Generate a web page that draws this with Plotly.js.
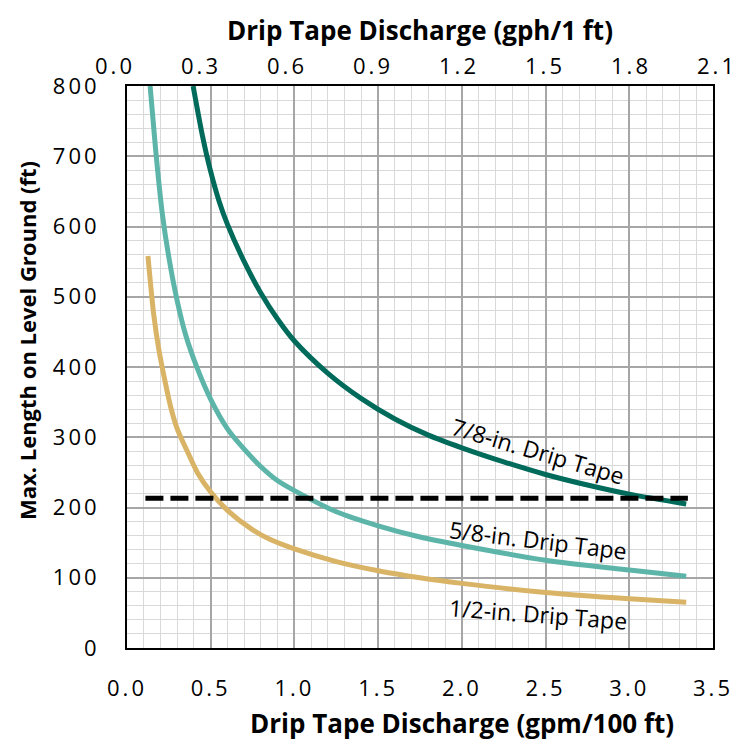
<!DOCTYPE html>
<html>
<head>
<meta charset="utf-8">
<script src="https://cdn.plot.ly/plotly-3.0.1.min.js"></script>
<style>
  html, body { margin: 0; padding: 0; background: #ffffff; }
  #chart { width: 750px; height: 745px; }
  /* roomier digits on the tick labels */
  .xtick text, .ytick text, .x2tick text { letter-spacing: 3px; }
</style>
</head>
<body>
<div id="chart"></div>
<script>
// Drip tape discharge (gpm/100 ft) and maximum run length (ft) for each tape size
const q78   = [0.395, 0.45, 0.50, 0.55, 0.60, 0.70, 0.80, 0.90, 1.00, 1.20, 1.40, 1.60, 1.80, 2.00, 2.25, 2.50, 2.75, 3.00, 3.34];
const len78 = [800, 730, 678, 636, 603, 550, 505, 468, 437, 391, 355, 326, 303, 285, 265, 247, 232, 219, 205];

const q58   = [0.138, 0.17, 0.21, 0.25, 0.30, 0.35, 0.42, 0.50, 0.60, 0.70, 0.80, 0.90, 1.00, 1.25, 1.50, 1.75, 2.00, 2.50, 3.00, 3.34];
const len58 = [800, 712, 620, 556, 494, 446, 398, 354, 312, 283, 258, 238, 224, 194, 174, 158, 146, 125, 111, 102];

const q12   = [0.125, 0.14, 0.16, 0.19, 0.22, 0.26, 0.30, 0.36, 0.42, 0.50, 0.60, 0.74, 0.85, 1.00, 1.25, 1.50, 1.75, 2.00, 2.50, 3.00, 3.34];
const len12 = [558, 520, 474, 425, 388, 344, 312, 280, 250, 222, 196, 170, 155, 141, 123, 110, 100, 92, 79, 70, 65];

// Horizontal reference length
const refQ   = [0.11, 3.35];
const refLen = [213, 213];

// Secondary scale: gph per 1 ft
const topTicks  = [0.0, 0.3, 0.6, 0.9, 1.2, 1.5, 1.8, 2.1];
const topLabels = ['0.0', '0.3', '0.6', '0.9', '1.2', '1.5', '1.8', '2.1'];

// Curve captions
const captionText = ['7/8-in. Drip Tape', '5/8-in. Drip Tape', '1/2-in. Drip Tape'];
const captionQ    = [2.455, 2.455, 2.455];
const captionLen  = [281, 154, 48];
const captionTilt = [16.5, 7, 4.4];

const colors = { d78: '#006b5b', d58: '#5db5a9', d12: '#d9b466' };
const FONT = 'Open Sans, Noto Sans, sans-serif';

const curveLine = (c) => ({ color: c, width: 5, shape: 'spline', smoothing: 0.8 });

const traces = [
  { x: q12, y: len12, type: 'scatter', mode: 'lines', name: '1/2-in.', line: curveLine(colors.d12) },
  { x: q58, y: len58, type: 'scatter', mode: 'lines', name: '5/8-in.', line: curveLine(colors.d58) },
  { x: q78, y: len78, type: 'scatter', mode: 'lines', name: '7/8-in.', line: curveLine(colors.d78) },
  { x: refQ, y: refLen, type: 'scatter', mode: 'lines', name: 'reference',
    line: { color: '#000000', width: 5, dash: '18px,7px' } },
  // carries the gph/1 ft scale along the top edge
  { x: [topTicks[0], topTicks[topTicks.length - 1]], y: [null, null], xaxis: 'x2', yaxis: 'y2',
    type: 'scatter', mode: 'lines', showlegend: false }
];

const annotations = captionText.map((t, i) => ({
  text: t, x: captionQ[i], y: captionLen[i], xref: 'x', yref: 'y',
  showarrow: false, textangle: captionTilt[i],
  xanchor: 'center', yanchor: 'middle',
  font: { family: FONT, size: 23, color: '#000000' }
}));

annotations.push(
  { text: '<b>Drip Tape Discharge (gph/1 ft)</b>', xref: 'paper', yref: 'paper',
    x: 0.5066, y: 1.0996, showarrow: false, xanchor: 'center', yanchor: 'middle',
    font: { family: FONT, size: 26, color: '#000000' } },
  { text: '<b>Drip Tape Discharge (gpm/100 ft)</b>', xref: 'paper', yref: 'paper',
    x: 0.5764, y: -0.1335, showarrow: false, xanchor: 'center', yanchor: 'middle',
    font: { family: FONT, size: 26, color: '#000000' } },
  { text: '<b>Max. Length on Level Ground (ft)</b>', xref: 'paper', yref: 'paper',
    x: -0.1462, y: 0.548, showarrow: false, textangle: -90, xanchor: 'center', yanchor: 'middle',
    font: { family: FONT, size: 22, color: '#000000' } }
);

const tickFont = { family: FONT, size: 22, color: '#000000' };

const layout = {
  width: 750, height: 745,
  margin: { l: 115, r: 33, t: 86, b: 97, pad: 0 },
  paper_bgcolor: '#ffffff',
  plot_bgcolor: 'rgba(0,0,0,0)',
  showlegend: false,
  hovermode: false,
  font: { family: FONT, size: 20, color: '#000000' },
  xaxis: {
    domain: [0.01993, 0.99336],
    range: [0, 3.5], dtick: 0.5, tick0: 0, tickformat: '.1f',
    showgrid: true, gridcolor: '#a6a6a6', gridwidth: 2,
    minor: { dtick: 0.1, showgrid: true, gridcolor: '#d9d9d9', gridwidth: 1 },
    showline: true, linecolor: '#000000', linewidth: 2, mirror: true,
    ticks: '', ticklabelstandoff: 20, zeroline: false,
    tickfont: tickFont
  },
  yaxis: {
    domain: [0, 1],
    range: [0, 800], dtick: 100, tick0: 0,
    showgrid: true, gridcolor: '#a6a6a6', gridwidth: 2,
    minor: { dtick: 20, showgrid: true, gridcolor: '#d9d9d9', gridwidth: 1 },
    showline: true, linecolor: '#000000', linewidth: 2, mirror: true,
    ticks: '', ticklabelstandoff: 21, zeroline: false,
    tickfont: tickFont
  },
  xaxis2: {
    domain: [0, 1], anchor: 'y2', side: 'top',
    range: [0, 2.1], tickmode: 'array', tickvals: topTicks, ticktext: topLabels,
    showgrid: false, zeroline: false, showline: false, ticks: '',
    ticklabelstandoff: 7,
    tickfont: tickFont
  },
  yaxis2: {
    domain: [0.99, 1], anchor: 'x2', visible: false, range: [0, 1], fixedrange: true
  },
  annotations: annotations
};

Plotly.newPlot('chart', traces, layout, { displayModeBar: false, staticPlot: true });
</script>
</body>
</html>
